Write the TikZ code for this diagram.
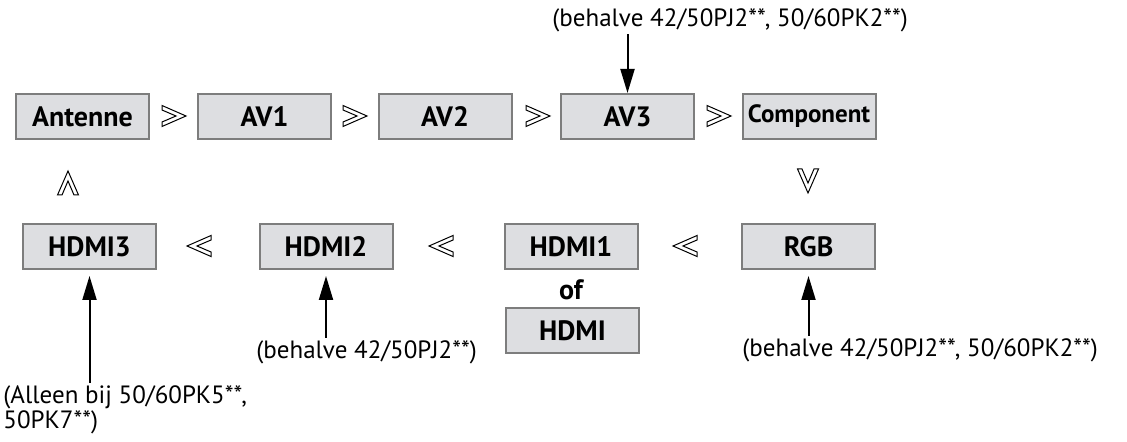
\documentclass[tikz,border=0pt]{standalone}
\usepackage{fontspec}
\setmainfont{PT Sans}
\usetikzlibrary{arrows.meta}
\definecolor{boxgray}{RGB}{221,222,225}
\definecolor{boxline}{RGB}{125,125,125}
\tikzset{
  srcbox/.style={draw=boxline,line width=1pt,fill=boxgray,minimum width=66.5pt,minimum height=22.5pt,inner sep=0pt,font=\fontsize{14}{14}\selectfont\bfseries},
  note/.style={inner sep=1pt},
  arr/.style={-{Triangle[length=12pt,width=7pt]},line width=1pt},
  chev/.pic={\draw[line width=0.5pt] (-12,-10.5) -- (12,0) -- (-12,10.5) -- (-12,6) -- (2,0) -- (-12,-6) -- cycle;}
}

\begin{document}
\begin{tikzpicture}[x=0.5pt,y=-0.5pt,font=\fontsize{12.5}{12.5}\selectfont]
\useasboundingbox (0,0) rectangle (1127,442);
% top row
\node[srcbox] (ant) at (82.5,116.5) {Antenne};
\node[srcbox] (av1) at (264.5,116.5) {AV1};
\node[srcbox] (av2) at (445,116.5) {AV2};
\node[srcbox] (av3) at (627.5,116.5) {AV3};
\node[srcbox,font=\fontsize{12.5}{12.5}\selectfont\bfseries] (comp) at (809,116.5) {Component};
\pic at (174,116) {chev};
\pic at (355,116) {chev};
\pic at (538,116) {chev};
\pic at (719,116) {chev};
% turns
\pic[rotate=-90] at (808,181) {chev};
\pic[rotate=90] at (68,183) {chev};
% bottom row
\node[srcbox] (hdmi3) at (89.5,246.5) {HDMI3};
\node[srcbox] (hdmi2) at (326,246.5) {HDMI2};
\node[srcbox] (hdmi1) at (571,246.5) {HDMI1};
\node[srcbox] (rgb) at (808.5,246.5) {RGB};
\pic[rotate=180] at (199,246) {chev};
\pic[rotate=180] at (441,246) {chev};
\pic[rotate=180] at (685,246) {chev};
\node[font=\fontsize{14}{14}\selectfont\bfseries] (of) at (571,290) {of};
\node[srcbox] (hdmi) at (572.5,330.5) {HDMI};
% notes
\node[note,anchor=west] (n1) at (550,20) {(behalve 42/50PJ2**, 50/60PK2**)};
\node[note,anchor=west] (n2) at (254,352) {(behalve 42/50PJ2**)};
\node[note,anchor=west] (n3) at (740,350) {(behalve 42/50PJ2**, 50/60PK2**)};
\node[note,anchor=north west,align=left] (n4) at (1,383) {(Alleen bij 50/60PK5**,\\50PK7**)};
\draw[arr] (av3.north |- n1.south) -- (av3.north);
\draw[arr] (hdmi3.south |- n4.north) -- ([yshift=-3pt]hdmi3.south);
\draw[arr] (hdmi2.south |- n2.north) -- ([yshift=-3pt]hdmi2.south);
\draw[arr] (rgb.south |- n3.north) -- ([yshift=-3pt]rgb.south);
\end{tikzpicture}
\end{document}
